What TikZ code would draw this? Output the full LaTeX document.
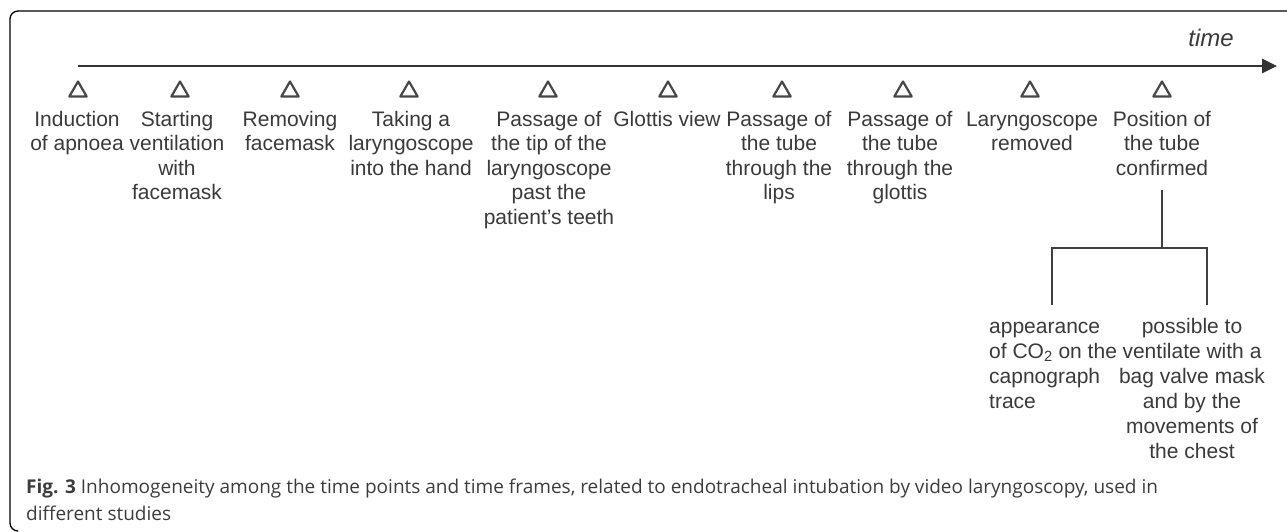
\documentclass[tikz,border=0pt]{standalone}
\usepackage{fontspec}
\setmainfont{Liberation Sans}
\newfontfamily\capfont{Open Sans}
\usetikzlibrary{arrows.meta,shapes.geometric}
\definecolor{txt}{HTML}{3A3A3A}
\definecolor{cap}{HTML}{3C3C3C}
\begin{document}
\begin{tikzpicture}[x=1pt,y=-1pt,
  lbl/.style={anchor=north,align=center,inner sep=0pt,text=txt,font=\fontsize{21}{24.5}\selectfont},
  sublbl/.style={inner sep=0pt,text=txt,font=\fontsize{21}{25}\selectfont},
  tri/.style={regular polygon,regular polygon sides=3,draw=black!72,line width=2.2pt,line join=round,minimum size=20pt,inner sep=0pt},
  conn/.style={draw=black!75,line width=2pt},
]
\useasboundingbox (0,0) rectangle (1287,532);
% frame
\draw[line width=1.3pt,rounded corners=8pt] (1290,11) -- (10,11) -- (10,531) -- (18,531);
% time axis
\coordinate (astart) at (78,66);
\coordinate (aend) at (1277,66);
\draw[line width=2.6pt,draw=black!80,-{Triangle[length=15pt,width=14pt]}] (astart) -- (aend);
\node[anchor=base,inner sep=0pt,text=txt,font=\itshape\fontsize{24}{28}\selectfont] (time) at (1211,47) {time};
% triangles
\foreach \x [count=\i] in {78,180,290,409,548,668,782,903,1030,1162}
  \node[tri] (t\i) at (\x,91.5) {};
% labels
\node[lbl] (l1) at (77,108.85) {\strut Induction\\of apnoea};
\node[lbl] (l2) at (177,108.85) {\strut Starting\\ventilation\\with\\facemask};
\node[lbl] (l3) at (290,108.85) {\strut Removing\\facemask};
\node[lbl] (l4) at (411,108.85) {\strut Taking a\\laryngoscope\\into the hand};
\node[lbl] (l5) at (549,108.85) {\strut Passage of\\the tip of the\\laryngoscope\\past the\\patient's teeth};
\node[lbl] (l6) at (667,108.85) {\strut Glottis view};
\node[lbl] (l7) at (779,108.85) {\strut Passage of\\the tube\\through the\\lips};
\node[lbl] (l8) at (900,108.85) {\strut Passage of\\the tube\\through the\\glottis};
\node[lbl] (l9) at (1032,108.85) {\strut Laryngoscope\\removed};
\node[lbl] (l10) at (1162,108.85) {\strut Position of\\the tube\\confirmed};
% bracket
\coordinate (b0) at (1162,190);
\coordinate (b1) at (1162,248);
\coordinate (bl) at (1052,248);
\coordinate (br) at (1207,248);
\coordinate (blb) at (1052,305);
\coordinate (brb) at (1207,305);
\draw[conn] (b0) -- (b1);
\draw[conn] (blb) -- (bl) -- (br) -- (brb);
% sub labels
\node[sublbl,anchor=north west,align=left] (s1) at (989,315.5) {\strut appearance\\of CO\textsubscript{2} on the\\capnograph\\trace};
\node[sublbl,anchor=north,align=center] (s2) at (1192,315.5) {\strut possible to\\ventilate with a\\bag valve mask\\and by the\\movements of\\the chest};
% caption
\node[anchor=north west,align=left,inner sep=0pt,text=cap,font=\capfont\fontsize{19}{27}\selectfont] (caption) at (26,474.1)
  {\strut\textbf{Fig. 3} Inhomogeneity among the time points and time frames, related to endotracheal intubation by video laryngoscopy, used in\\different studies};
\end{tikzpicture}
\end{document}
